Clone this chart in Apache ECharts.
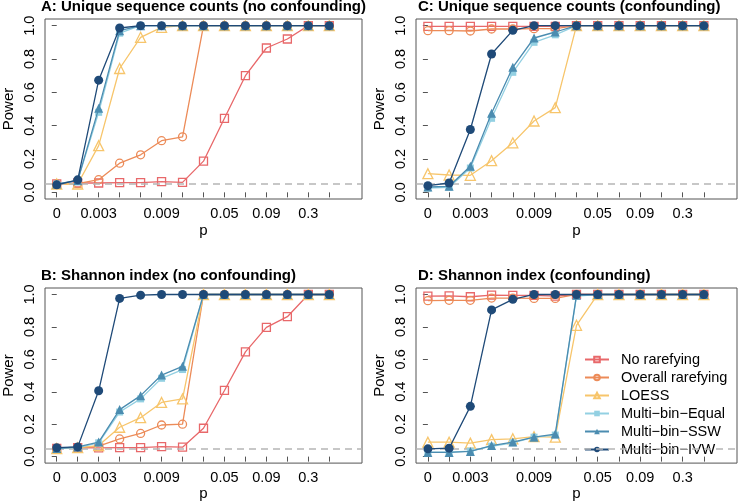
<!DOCTYPE html>
<html>
<head>
<meta charset="utf-8">
<script src="https://cdn.jsdelivr.net/npm/echarts@6/dist/echarts.min.js"></script>
<style>
html, body { margin: 0; padding: 0; background: #fff; }
#chart { width: 738px; height: 502px; }
</style>
</head>
<body>
<div id="chart"></div>
<script>
// p values on the x axis (equally spaced positions)
const pLabels = ['0', '0.001', '0.003', '0.005', '0.007', '0.009', '0.01', '0.03', '0.05', '0.07', '0.09', '0.1', '0.3', '0.5'];
const shownLabels = [0, 2, 5, 8, 10, 12];
const tickPos = [0, 1, 2, 3, 4, 5, 6, 7, 8, 9, 10, 11, 12, 13];
const yTicks = [0, 0.2, 0.4, 0.6, 0.8, 1.0];
const alphaLine = 0.05;

const methods = ['No rarefying', 'Overall rarefying', 'LOESS', 'Multi\u2212bin\u2212Equal', 'Multi\u2212bin\u2212SSW', 'Multi\u2212bin\u2212IVW'];
const titles = [
  'A: Unique sequence counts (no confounding)',
  'C: Unique sequence counts (confounding)',
  'B: Shannon index (no confounding)',
  'D: Shannon index (confounding)'
];

// A: unique sequence counts, no confounding
const A_none    = [0.05, 0.056, 0.056, 0.058, 0.058, 0.064, 0.06, 0.187, 0.444, 0.70, 0.866, 0.92, 1, 1];
const A_overall = [0.05, 0.052, 0.076, 0.175, 0.225, 0.31, 0.333, 1, 1, 1, 1, 1, 1, 1];
const A_loess   = [0.05, 0.05, 0.28, 0.743, 0.93, 0.99, 1, 1, 1, 1, 1, 1, 1, 1];
const A_equal   = [0.05, 0.07, 0.48, 0.955, 1, 1, 1, 1, 1, 1, 1, 1, 1, 1];
const A_ssw     = [0.05, 0.07, 0.504, 0.97, 1, 1, 1, 1, 1, 1, 1, 1, 1, 1];
const A_ivw     = [0.045, 0.075, 0.673, 0.986, 1, 1, 1, 1, 1, 1, 1, 1, 1, 1];

// C: unique sequence counts, confounding
const C_none    = [0.996, 0.996, 0.996, 0.996, 0.996, 0.996, 0.996, 1, 1, 1, 1, 1, 1, 1];
const C_overall = [0.97, 0.97, 0.968, 0.98, 0.98, 0.982, 0.982, 1, 1, 1, 1, 1, 1, 1];
const C_loess   = [0.112, 0.104, 0.102, 0.19, 0.297, 0.428, 0.508, 1, 1, 1, 1, 1, 1, 1];
const C_equal   = [0.026, 0.03, 0.146, 0.444, 0.72, 0.90, 0.945, 1, 1, 1, 1, 1, 1, 1];
const C_ssw     = [0.032, 0.036, 0.157, 0.474, 0.75, 0.926, 0.962, 1, 1, 1, 1, 1, 1, 1];
const C_ivw     = [0.04, 0.056, 0.377, 0.83, 0.972, 1, 1, 1, 1, 1, 1, 1, 1, 1];

// B: Shannon index, no confounding
const B_none    = [0.05, 0.056, 0.054, 0.056, 0.056, 0.062, 0.058, 0.175, 0.408, 0.646, 0.797, 0.863, 1, 1];
const B_overall = [0.05, 0.055, 0.064, 0.109, 0.143, 0.195, 0.2, 1, 1, 1, 1, 1, 1, 1];
const B_loess   = [0.05, 0.055, 0.068, 0.181, 0.24, 0.334, 0.356, 1, 1, 1, 1, 1, 1, 1];
const B_equal   = [0.05, 0.055, 0.085, 0.275, 0.356, 0.483, 0.537, 1, 1, 1, 1, 1, 1, 1];
const B_ssw     = [0.05, 0.06, 0.09, 0.29, 0.376, 0.503, 0.557, 1, 1, 1, 1, 1, 1, 1];
const B_ivw     = [0.055, 0.06, 0.406, 0.976, 0.996, 1, 1, 1, 1, 1, 1, 1, 1, 1];

// D: Shannon index, confounding
const D_none    = [0.99, 0.992, 0.986, 0.996, 0.994, 0.994, 0.99, 1, 1, 1, 1, 1, 1, 1];
const D_overall = [0.962, 0.964, 0.964, 0.978, 0.978, 0.976, 0.976, 1, 1, 1, 1, 1, 1, 1];
const D_loess   = [0.089, 0.089, 0.083, 0.105, 0.11, 0.123, 0.12, 0.81, 1, 1, 1, 1, 1, 1];
const D_equal   = [0.028, 0.028, 0.034, 0.064, 0.085, 0.12, 0.133, 0.99, 1, 1, 1, 1, 1, 1];
const D_ssw     = [0.026, 0.026, 0.032, 0.068, 0.09, 0.12, 0.139, 0.996, 1, 1, 1, 1, 1, 1];
const D_ivw     = [0.048, 0.052, 0.31, 0.905, 0.97, 1, 1, 1, 1, 1, 1, 1, 1, 1];

const panelData = [
  [A_none, A_overall, A_loess, A_equal, A_ssw, A_ivw],
  [C_none, C_overall, C_loess, C_equal, C_ssw, C_ivw],
  [B_none, B_overall, B_loess, B_equal, B_ssw, B_ivw],
  [D_none, D_overall, D_loess, D_equal, D_ssw, D_ivw]
];

// style of each method
const looks = [
  { color: '#E8686A', symbol: 'rect', size: 8, hollow: true },
  { color: '#EC8B58', symbol: 'circle', size: 8, hollow: true },
  { color: '#F7C56B', symbol: 'triangle', size: 10, hollow: true },
  { color: '#93D0E2', symbol: 'rect', size: 7, hollow: false },
  { color: '#4B8CB0', symbol: 'triangle', size: 9, hollow: false },
  { color: '#1F4A78', symbol: 'circle', size: 9, hollow: false }
];

const font = 'Liberation Sans, Arial, Helvetica, sans-serif';
const grids = [
  { left: 39, top: 19, width: 323, height: 180 },
  { left: 416, top: 19, width: 321, height: 180 },
  { left: 39, top: 288, width: 323, height: 179 },
  { left: 416, top: 288, width: 321, height: 179 }
];
const pGaps = [24, 24, 18, 18];

const option = {
  backgroundColor: '#fff',
  animation: false,
  textStyle: { fontFamily: font },
  title: titles.map((t, i) => ({
    text: t,
    left: grids[i].left + 2,
    top: grids[i].top - 20,
    padding: 0,
    textStyle: { fontFamily: font, fontSize: 15, fontWeight: 'bold', color: '#000' }
  })),
  legend: {
    data: methods,
    orient: 'vertical',
    left: 584,
    top: 352,
    padding: 0,
    itemWidth: 24,
    itemHeight: 7,
    itemGap: 3,
    textStyle: { fontFamily: font, fontSize: 14.5, color: '#000', padding: [0, 0, 0, 7] }
  },
  grid: grids.map(g => Object.assign({ show: true, borderColor: '#555', borderWidth: 1, backgroundColor: 'transparent' }, g)),
  xAxis: grids.map((g, i) => ({
    type: 'value',
    gridIndex: i,
    min: -0.56,
    max: 14.56,
    name: 'p',
    nameLocation: 'middle',
    nameGap: pGaps[i],
    nameTextStyle: { fontFamily: font, fontSize: 15, color: '#000' },
    axisLine: { show: false },
    splitLine: { show: false },
    axisTick: { show: true, customValues: tickPos, length: 5, lineStyle: { color: '#555' } },
    axisLabel: {
      customValues: shownLabels,
      margin: 7,
      fontFamily: font,
      fontSize: 14.5,
      color: '#000',
      formatter: v => pLabels[Math.round(v)]
    }
  })),
  yAxis: grids.map((g, i) => ({
    type: 'value',
    gridIndex: i,
    min: -0.04,
    max: 1.04,
    name: 'Power',
    nameLocation: 'middle',
    nameGap: 29,
    nameTextStyle: { fontFamily: font, fontSize: 15, color: '#000' },
    axisLine: { show: false },
    splitLine: { show: false },
    axisTick: { show: true, customValues: yTicks, length: 5, lineStyle: { color: '#555' } },
    axisLabel: {
      customValues: yTicks,
      rotate: 90,
      margin: 8,
      fontFamily: font,
      fontSize: 14.5,
      color: '#000',
      formatter: v => v.toFixed(1)
    }
  })),
  series: []
};

panelData.forEach((rows, p) => {
  rows.forEach((vals, m) => {
    const lk = looks[m];
    const s = {
      name: methods[m],
      type: 'line',
      xAxisIndex: p,
      yAxisIndex: p,
      data: vals.map((v, i) => [tickPos[i], v]),
      symbol: lk.symbol,
      symbolSize: lk.size,
      showAllSymbol: true,
      lineStyle: { color: lk.color, width: 1.3 },
      itemStyle: lk.hollow
        ? { color: 'rgba(255,255,255,0)', borderColor: lk.color, borderWidth: 1.3 }
        : { color: lk.color, borderColor: lk.color, borderWidth: 0 },
      emphasis: { disabled: true },
      z: 2 + m
    };
    if (m === 0) {
      s.markLine = {
        silent: true,
        symbol: 'none',
        label: { show: false },
        lineStyle: { color: '#b5b5b5', type: [7, 5], width: 1.5 },
        data: [{ yAxis: alphaLine }]
      };
    }
    option.series.push(s);
  });
});

const myChart = echarts.init(document.getElementById('chart'));
myChart.setOption(option);
</script>
</body>
</html>
